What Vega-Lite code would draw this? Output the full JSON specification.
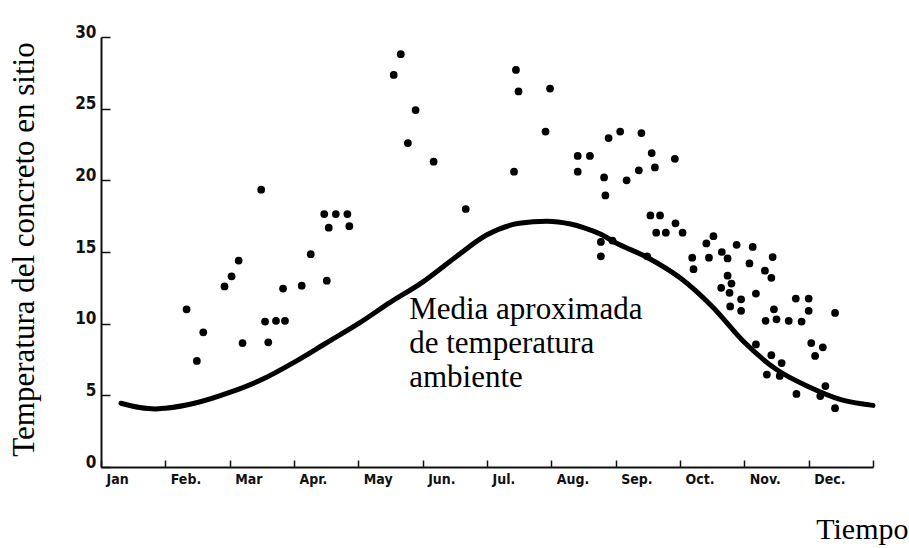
{
  "$schema": "https://vega.github.io/schema/vega-lite/v6.json",
  "width": 772,
  "height": 430,
  "autosize": {"type": "none"},
  "padding": {"left": 101, "top": 37, "right": 36, "bottom": 81},
  "background": "white",
  "config": {"view": {"stroke": null}},
  "datasets": {
    "curve": [
      {"mes": 0.31, "temp": 4.45},
      {"mes": 0.6, "temp": 4.15},
      {"mes": 0.84, "temp": 4.05},
      {"mes": 1.0, "temp": 4.1},
      {"mes": 1.5, "temp": 4.5},
      {"mes": 2.0, "temp": 5.2},
      {"mes": 2.5, "temp": 6.1},
      {"mes": 3.0, "temp": 7.3},
      {"mes": 3.5, "temp": 8.65},
      {"mes": 4.0, "temp": 10.0},
      {"mes": 4.5, "temp": 11.5},
      {"mes": 5.0, "temp": 12.9},
      {"mes": 5.5, "temp": 14.6},
      {"mes": 6.0, "temp": 16.2},
      {"mes": 6.5, "temp": 17.0},
      {"mes": 6.93, "temp": 17.15},
      {"mes": 7.3, "temp": 16.95},
      {"mes": 7.5, "temp": 16.7},
      {"mes": 7.76, "temp": 16.25},
      {"mes": 8.0, "temp": 15.65},
      {"mes": 8.5, "temp": 14.6},
      {"mes": 9.0, "temp": 13.2},
      {"mes": 9.5, "temp": 11.2},
      {"mes": 10.0, "temp": 8.7},
      {"mes": 10.5, "temp": 6.8},
      {"mes": 11.0, "temp": 5.6},
      {"mes": 11.5, "temp": 4.7},
      {"mes": 12.0, "temp": 4.3}
    ],
    "puntos": [
      {"mes": 1.33, "temp": 11.0}, {"mes": 1.59, "temp": 9.4}, {"mes": 1.49, "temp": 7.4},
      {"mes": 1.92, "temp": 12.6}, {"mes": 2.03, "temp": 13.3}, {"mes": 2.14, "temp": 14.4},
      {"mes": 2.2, "temp": 8.65}, {"mes": 2.49, "temp": 19.35}, {"mes": 2.55, "temp": 10.15},
      {"mes": 2.72, "temp": 10.2}, {"mes": 2.86, "temp": 10.2}, {"mes": 2.6, "temp": 8.7},
      {"mes": 2.83, "temp": 12.45}, {"mes": 3.12, "temp": 12.65}, {"mes": 3.26, "temp": 14.85},
      {"mes": 3.51, "temp": 13.0}, {"mes": 3.47, "temp": 17.65}, {"mes": 3.65, "temp": 17.65},
      {"mes": 3.83, "temp": 17.65}, {"mes": 3.54, "temp": 16.7}, {"mes": 3.86, "temp": 16.8},
      {"mes": 4.55, "temp": 27.35}, {"mes": 4.66, "temp": 28.8}, {"mes": 4.89, "temp": 24.9},
      {"mes": 4.77, "temp": 22.6}, {"mes": 5.17, "temp": 21.3}, {"mes": 5.67, "temp": 18.0},
      {"mes": 6.45, "temp": 27.7}, {"mes": 6.49, "temp": 26.2}, {"mes": 6.98, "temp": 26.4},
      {"mes": 6.91, "temp": 23.4}, {"mes": 6.42, "temp": 20.6}, {"mes": 7.41, "temp": 21.7},
      {"mes": 7.6, "temp": 21.7}, {"mes": 7.41, "temp": 20.6}, {"mes": 7.89, "temp": 22.95},
      {"mes": 8.07, "temp": 23.4}, {"mes": 8.4, "temp": 23.3}, {"mes": 8.56, "temp": 21.9},
      {"mes": 8.61, "temp": 20.9}, {"mes": 8.36, "temp": 20.7}, {"mes": 8.17, "temp": 20.0},
      {"mes": 7.82, "temp": 20.2}, {"mes": 7.84, "temp": 18.95}, {"mes": 8.92, "temp": 21.5},
      {"mes": 8.54, "temp": 17.55}, {"mes": 8.69, "temp": 17.55}, {"mes": 8.93, "temp": 17.0},
      {"mes": 8.63, "temp": 16.35}, {"mes": 8.78, "temp": 16.35}, {"mes": 9.04, "temp": 16.35},
      {"mes": 7.77, "temp": 15.7}, {"mes": 7.77, "temp": 14.7}, {"mes": 7.95, "temp": 15.8},
      {"mes": 8.49, "temp": 14.7}, {"mes": 9.52, "temp": 16.1}, {"mes": 9.41, "temp": 15.6},
      {"mes": 9.88, "temp": 15.5}, {"mes": 10.13, "temp": 15.35}, {"mes": 9.19, "temp": 14.6},
      {"mes": 9.45, "temp": 14.6}, {"mes": 9.65, "temp": 15.0}, {"mes": 9.74, "temp": 14.55},
      {"mes": 10.08, "temp": 14.2}, {"mes": 10.44, "temp": 14.65}, {"mes": 9.21, "temp": 13.8},
      {"mes": 9.74, "temp": 13.35}, {"mes": 9.8, "temp": 12.8}, {"mes": 9.64, "temp": 12.5},
      {"mes": 9.77, "temp": 12.15}, {"mes": 9.95, "temp": 11.7}, {"mes": 10.18, "temp": 12.1},
      {"mes": 10.32, "temp": 13.7}, {"mes": 10.42, "temp": 13.2}, {"mes": 9.78, "temp": 11.2},
      {"mes": 9.95, "temp": 10.9}, {"mes": 10.46, "temp": 11.0}, {"mes": 10.33, "temp": 10.2},
      {"mes": 10.5, "temp": 10.3}, {"mes": 10.69, "temp": 10.2}, {"mes": 10.89, "temp": 10.15},
      {"mes": 10.8, "temp": 11.75}, {"mes": 11.0, "temp": 11.75}, {"mes": 11.0, "temp": 10.9},
      {"mes": 11.41, "temp": 10.75}, {"mes": 10.18, "temp": 8.55}, {"mes": 10.42, "temp": 7.8},
      {"mes": 10.58, "temp": 7.25}, {"mes": 10.35, "temp": 6.45}, {"mes": 10.55, "temp": 6.35},
      {"mes": 11.04, "temp": 8.65}, {"mes": 11.22, "temp": 8.35}, {"mes": 11.1, "temp": 7.75},
      {"mes": 11.26, "temp": 5.65}, {"mes": 10.81, "temp": 5.1}, {"mes": 11.18, "temp": 4.95},
      {"mes": 11.41, "temp": 4.1}
    ],
    "nota": [
      {"mes": 4.79, "temp": 10.35, "texto": ["Media aproximada", "de temperatura", "ambiente"]}
    ]
  },
  "encoding": {
    "x": {
      "field": "mes",
      "type": "quantitative",
      "scale": {"domain": [0, 12], "nice": false, "zero": false},
      "axis": {
        "values": [0, 1, 2, 3, 4, 5, 6, 7, 8, 9, 10, 11, 12],
        "labelExpr": "['Jan','Feb.','Mar','Apr.','May','Jun.','Jul.','Aug.','Sep.','Oct.','Nov.','Dec.',''][datum.value]",
        "labelAlign": "left",
        "labelOffset": 5,
        "labelFlush": false,
        "labelBaseline": "top",
        "labelPadding": 12,
        "labelFont": "Liberation Sans Narrow, DejaVu Sans Condensed, sans-serif",
        "labelFontSize": 14,
        "labelFontWeight": "bold",
        "labelColor": "#111",
        "tickSize": -7,
        "tickWidth": 1.5,
        "tickColor": "#111",
        "domainColor": "#111",
        "domainWidth": 2,
        "grid": false,
        "title": "Tiempo",
        "titleFont": "Liberation Serif",
        "titleFontSize": 30,
        "titleFontWeight": "normal",
        "titleColor": "black",
        "titleX": 807,
        "titleY": 71,
        "titleAlign": "right",
        "titleBaseline": "alphabetic"
      }
    },
    "y": {
      "field": "temp",
      "type": "quantitative",
      "scale": {"domain": [0, 30], "nice": false, "zero": true},
      "axis": {
        "values": [0, 5, 10, 15, 20, 25, 30],
        "labelAlign": "right",
        "labelBaseline": "alphabetic",
        "labelPadding": 14,
        "labelFont": "Liberation Sans Narrow, DejaVu Sans Condensed, sans-serif",
        "labelFontSize": 17,
        "labelFontWeight": "bold",
        "labelColor": "#111",
        "tickSize": -9,
        "tickWidth": 1.5,
        "tickColor": "#111",
        "domainColor": "#111",
        "domainWidth": 2,
        "grid": false,
        "title": "Temperatura del concreto en sitio",
        "titleFont": "Liberation Serif",
        "titleFontSize": 31,
        "titleFontWeight": "normal",
        "titleColor": "black",
        "titleAngle": -90,
        "titleX": -68,
        "titleY": 212,
        "titleAlign": "center",
        "titleBaseline": "alphabetic"
      }
    }
  },
  "layer": [
    {
      "data": {"name": "curve"},
      "mark": {"type": "line", "color": "black", "strokeWidth": 5, "interpolate": "monotone", "strokeCap": "round"}
    },
    {
      "data": {"name": "puntos"},
      "mark": {"type": "point", "filled": true, "color": "black", "size": 60, "opacity": 1}
    },
    {
      "data": {"name": "nota"},
      "mark": {"type": "text", "align": "left", "baseline": "alphabetic", "font": "Liberation Serif", "fontSize": 31, "lineHeight": 34, "color": "black"},
      "encoding": {"text": {"field": "texto"}}
    }
  ]
}
